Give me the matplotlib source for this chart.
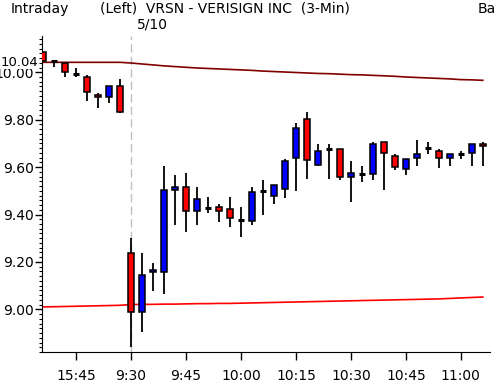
import numpy as np
import matplotlib
matplotlib.use("Agg")
import matplotlib.pyplot as plt
from matplotlib.ticker import MultipleLocator, FixedLocator
import matplotlib.transforms as mtransforms

# bar index: -8..-1 previous session (15:36-15:57), 0..32 today (9:30-11:06)
bars = np.arange(-8, 33)

opens = [10.084, 10.046, 10.039, 9.992, 9.979, 9.904, 9.895, 9.941,
         9.236, 8.987, 9.156, 9.156, 9.505, 9.516, 9.416, 9.427, 9.430,
         9.422, 9.377, 9.374, 9.500, 9.478, 9.506, 9.637, 9.802, 9.608,
         9.675, 9.675, 9.557, 9.572, 9.570, 9.705, 9.646, 9.591, 9.637,
         9.682, 9.667, 9.637, 9.657, 9.658, 9.696]
highs = [10.086, 10.047, 10.040, 10.018, 9.989, 9.911, 9.941, 9.972,
         9.300, 9.236, 9.194, 9.606, 9.567, 9.575, 9.517, 9.475, 9.444,
         9.475, 9.433, 9.515, 9.546, 9.523, 9.633, 9.785, 9.831, 9.696,
         9.696, 9.675, 9.624, 9.603, 9.705, 9.705, 9.654, 9.633, 9.713,
         9.705, 9.675, 9.654, 9.667, 9.696, 9.705]
lows = [10.045, 10.024, 9.979, 9.979, 9.880, 9.851, 9.872, 9.830,
        8.842, 8.905, 9.079, 9.065, 9.356, 9.327, 9.356, 9.405, 9.370,
        9.349, 9.306, 9.356, 9.398, 9.443, 9.471, 9.500, 9.551, 9.603,
        9.551, 9.544, 9.451, 9.536, 9.544, 9.502, 9.586, 9.565, 9.603,
        9.654, 9.595, 9.603, 9.633, 9.603, 9.603]
closes = [10.049, 10.046, 10.000, 9.992, 9.916, 9.895, 9.941, 9.834,
          8.987, 9.143, 9.165, 9.502, 9.516, 9.416, 9.465, 9.427, 9.416,
          9.384, 9.377, 9.494, 9.500, 9.523, 9.624, 9.764, 9.629, 9.667,
          9.675, 9.557, 9.574, 9.572, 9.696, 9.658, 9.599, 9.633, 9.654,
          9.682, 9.637, 9.654, 9.657, 9.696, 9.689]

upper_line = [10.042, 10.042, 10.042, 10.042, 10.042, 10.042, 10.042, 10.042,
              10.039, 10.035, 10.031, 10.027, 10.024, 10.021, 10.018, 10.016,
              10.014, 10.012, 10.010, 10.008, 10.005, 10.003, 10.001, 9.999,
              9.997, 9.995, 9.994, 9.992, 9.990, 9.989, 9.987, 9.985, 9.983,
              9.980, 9.978, 9.976, 9.974, 9.972, 9.969, 9.968, 9.966]
lower_line = [9.010, 9.011, 9.012, 9.013, 9.014, 9.015, 9.016, 9.017,
              9.020, 9.021, 9.021, 9.022, 9.022, 9.023, 9.024, 9.024, 9.025,
              9.025, 9.026, 9.027, 9.028, 9.029, 9.030, 9.031, 9.032, 9.033,
              9.034, 9.035, 9.036, 9.037, 9.038, 9.039, 9.040, 9.041, 9.042,
              9.043, 9.044, 9.046, 9.048, 9.050, 9.052]

tick_bars = [-5, 0, 5, 10, 15, 20, 25, 30]
tick_labels = ["15:45", "9:30", "9:45", "10:00", "10:15", "10:30", "10:45", "11:00"]
y_ticks = [9.0, 9.2, 9.4, 9.6, 9.8, 10.0]
session_start = 0

W, H = 495, 388
fig = plt.figure(figsize=(W / 100, H / 100), dpi=100)
ax = fig.add_axes([42 / W, (H - 352) / H, (490 - 42) / W, (352 - 36) / H])

ax.set_xlim(-8.1, 32.65)
ax.set_ylim(8.82, 10.153)

# session separator
ax.axvline(session_start, color="#c0c0c0", lw=1, dashes=(6, 3), zorder=1)

# reference lines
ax.plot(bars, upper_line, color="#800000", lw=1.2, zorder=2)
ax.plot(bars, lower_line, color="#ff0000", lw=1.2, zorder=2)

o = np.array(opens)
c = np.array(closes)
ax.vlines(bars, lows, highs, color="black", lw=1.3, zorder=3)
body = np.abs(c - o) > 0.003
cols = np.where(c >= o, "#0000ff", "#ff0000")
ax.bar(bars[body], (c - o)[body], bottom=o[body], width=0.55,
       color=cols[body], edgecolor="black", linewidth=1.1, zorder=4)
ax.hlines(o[~body], bars[~body] - 0.3, bars[~body] + 0.3, color="black",
          lw=2.2, zorder=4)

for s in ["top", "right"]:
    ax.spines[s].set_visible(False)

ax.xaxis.set_major_locator(FixedLocator(tick_bars))
ax.set_xticklabels(tick_labels)
ax.yaxis.set_major_locator(FixedLocator(y_ticks))
ax.yaxis.set_minor_locator(MultipleLocator(0.02))
ax.set_yticklabels(["%.2f" % v for v in y_ticks])
ax.tick_params(axis="x", length=6, width=1, labelsize=10, pad=6)
ax.tick_params(axis="y", which="major", length=5, width=1, labelsize=10, pad=1)
ax.tick_params(axis="y", which="minor", length=2.5, width=0.8)

# label of the upper line at the axis
trans = mtransforms.blended_transform_factory(fig.transFigure, ax.transData)
ax.text(38 / W, upper_line[0], "%.2f" % upper_line[0], transform=trans,
        ha="right", va="center", fontsize=9.5,
        bbox=dict(facecolor="white", edgecolor="none", pad=0.3), zorder=10)

fig.text(11 / W, 1 - 9 / H, "Intraday", fontsize=10, va="center")
fig.text(100 / W, 1 - 9 / H, "(Left)  VRSN - VERISIGN INC  (3-Min)",
         fontsize=10, va="center")
fig.text(478 / W, 1 - 9 / H, "Ba", fontsize=10, va="center")
fig.text(137 / W, 1 - 25 / H, "5/10", fontsize=10, va="center")

fig.savefig("out.png", dpi=100)
